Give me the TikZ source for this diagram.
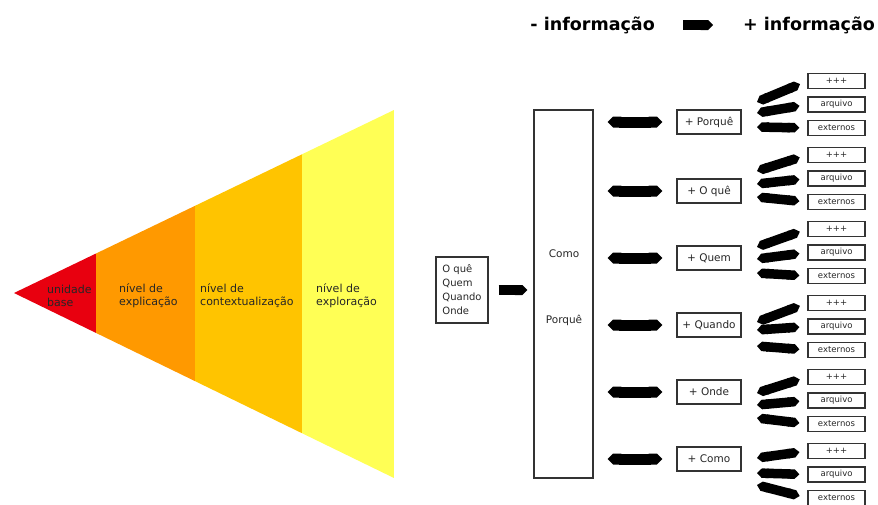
\documentclass[tikz,border=0pt]{standalone}
\usepackage{fontspec}
\setmainfont{DejaVu Sans}
\usetikzlibrary{arrows.meta}
\definecolor{vermelho}{HTML}{E8000F}
\definecolor{laranja}{HTML}{FF9900}
\definecolor{ouro}{HTML}{FFC400}
\definecolor{amarelo}{HTML}{FFFF55}
\begin{document}
\begin{tikzpicture}[x=1pt,y=-1pt,
    nivel/.style={anchor=west, align=left, inner sep=0pt, text=black!85,
      font=\fontsize{11}{13}\selectfont},
    caixa/.style={draw=black!80, line width=1.2pt, inner sep=0pt, text=black!85},
    mais/.style={caixa, minimum width=64pt, minimum height=24pt,
      font=\fontsize{10.5}{12}\selectfont},
    extra/.style={caixa, minimum width=57pt, minimum height=15pt,
      font=\fontsize{8.5}{10}\selectfont},
    seta/.style={line width=11pt, black, {Triangle Cap}-{Triangle Cap}},
    leque/.style={line width=9.5pt, black, {Triangle Cap}-{Triangle Cap}},
    ponta/.style={line width=10pt, black, -{Triangle Cap}}]
\useasboundingbox (0,0) rectangle (878,504);

% Title
\node[anchor=east, inner sep=0pt, font=\fontsize{17.5}{20}\selectfont\bfseries] (menos) at (655,25) {- informação};
\node[anchor=west, inner sep=0pt, font=\fontsize{17.5}{20}\selectfont\bfseries] (mais) at (743,25) {+ informação};
\draw[ponta, shorten <=28pt, shorten >=30pt] (menos.east) -- (mais.west);

% Triangle with the levels
\begin{scope}
  \clip (14,293) -- (394,110) -- (394,478) -- cycle;
  \fill[vermelho] (0,100) rectangle (96,490);
  \fill[laranja] (96,100) rectangle (195,490);
  \fill[ouro] (195,100) rectangle (302,490);
  \fill[amarelo] (302,100) rectangle (394,490);
\end{scope}
\node[nivel] (base) at (47,296) {unidade\\base};
\node[nivel] (explicacao) at (119,296) {nível de\\explicação};
\node[nivel] (contexto) at (200,296) {nível de\\contextualização};
\node[nivel] (exploracao) at (316,296) {nível de\\exploração};

% Questions
\node[caixa, minimum width=52pt, minimum height=66pt, align=left,
  font=\fontsize{10}{14}\selectfont] (perguntas) at (462,290) {O quê\\Quem\\Quando\\Onde};

% Middle box
\node[caixa, minimum width=59pt, minimum height=368pt] (centro) at (563.5,294) {};
\node[font=\fontsize{10.5}{12}\selectfont, text=black!85] (como) at (564,254) {Como};
\node[font=\fontsize{10.5}{12}\selectfont, text=black!85] (porque) at (564,320) {Porquê};
\draw[ponta, shorten <=10pt, shorten >=6pt] (perguntas.east) -- (perguntas.east -| centro.west);

% Rows
\foreach \i/\y/\txt in {1/122/Porquê, 2/191/O quê, 3/258/Quem, 4/325/Quando, 5/392/Onde, 6/459/Como} {
  \node[mais] (p\i) at (709,\y) {+ \txt};
  \draw[seta, shorten <=14pt, shorten >=14pt] (p\i.west) -- (p\i.west -| centro.east);
}

% Extra boxes
\foreach \g/\y in {1/81, 2/155, 3/229, 4/303, 5/377, 6/451} {
  \node[extra] (a\g) at (836.5,\y) {+++};
  \node[extra] (b\g) at (836.5,\y+23.5) {arquivo};
  \node[extra] (c\g) at (836.5,\y+47) {externos};
}

% Fans
\foreach \g/\ya/\yb/\yc in {1/102/113/127, 2/171/184/197, 3/247/259/273, 4/322/330/346, 5/393/405/418, 6/458/473/485} {
  \coordinate (sa\g) at (757,\ya);
  \coordinate (sb\g) at (757,\yb);
  \coordinate (sc\g) at (757,\yc);
  \draw[leque, shorten >=8pt] (sa\g) -- (a\g.west);
  \draw[leque, shorten >=8pt] (sb\g) -- (b\g.west);
  \draw[leque, shorten >=8pt] (sc\g) -- (c\g.west);
}
\end{tikzpicture}
\end{document}
